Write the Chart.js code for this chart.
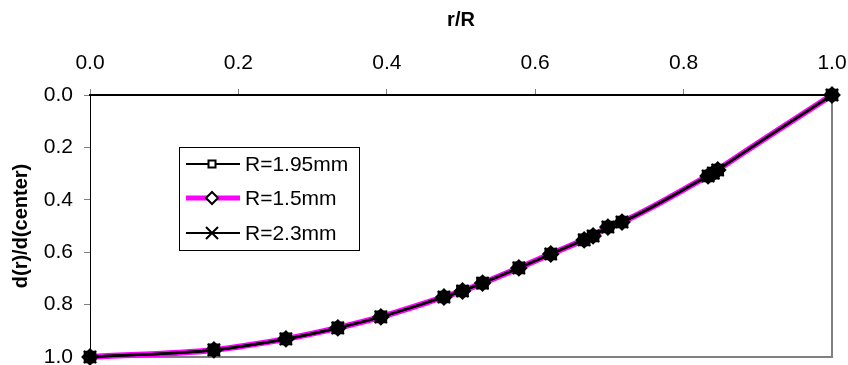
<!DOCTYPE html>
<html><head><meta charset="utf-8">
<script src="https://cdn.jsdelivr.net/npm/chart.js@4/dist/chart.umd.min.js"></script>
<style>html,body{margin:0;padding:0;background:#fff}#wrap{width:848px;height:365px}</style>
</head><body><div id="wrap"><canvas id="c" width="848" height="365"></canvas></div>
<script>
const rOverR = [0, 0.167, 0.264, 0.334, 0.392, 0.477, 0.502, 0.529, 0.578, 0.621, 0.666, 0.678, 0.698, 0.717, 0.833, 0.840, 0.846, 1.0];
const ratioR195 = [1.0, 0.973, 0.931, 0.889, 0.847, 0.771, 0.748, 0.718, 0.660, 0.607, 0.553, 0.538, 0.504, 0.485, 0.309, 0.298, 0.286, 0.0];
const ratioR15  = [1.0, 0.973, 0.931, 0.889, 0.847, 0.771, 0.748, 0.718, 0.660, 0.607, 0.553, 0.538, 0.504, 0.485, 0.309, 0.298, 0.286, 0.0];
const ratioR23  = [1.0, 0.973, 0.931, 0.889, 0.847, 0.771, 0.748, 0.718, 0.660, 0.607, 0.553, 0.538, 0.504, 0.485, 0.309, 0.298, 0.286, 0.0];
const seriesNames = ['R=1.95mm', 'R=1.5mm', 'R=2.3mm'];
const xTitle = 'r/R';
const yTitle = 'd(r)/d(center)';

const FONT = '"Liberation Sans", Arial, sans-serif';
const pts = (ys) => rOverR.map((x, i) => ({x: x, y: ys[i]}));

const styles = [
  {color: '#000000', width: 2.5, pstyle: 'rect', pr: 7.5, fill: '#000000', order: 1},
  {color: '#ff00ff', width: 6, pstyle: 'rectRot', pr: 7.5, fill: '#000000', order: 3},
  {color: '#000000', width: 2.5, pstyle: 'crossRot', pr: 8.5, fill: '#000000', order: 2}
];
const allSeries = [ratioR195, ratioR15, ratioR23];

const frame = {
  id: 'frame',
  beforeDatasetsDraw(chart) {
    const {ctx, chartArea: a} = chart;
    ctx.save();
    ctx.strokeStyle = '#808080';
    ctx.lineWidth = 2;
    ctx.beginPath();
    ctx.moveTo(a.right, a.top);
    ctx.lineTo(a.right, a.bottom);
    ctx.lineTo(a.left, a.bottom);
    ctx.stroke();
    ctx.restore();
  },
  afterDraw(chart) {
    const ctx = chart.ctx;
    ctx.save();
    const bx = 179.5, by = 147.5, bw = 180, bh = 103;
    ctx.strokeStyle = '#000';
    ctx.lineWidth = 1;
    ctx.fillStyle = '#fff';
    ctx.fillRect(bx, by, bw, bh);
    ctx.strokeRect(bx, by, bw, bh);
    const rows = [164, 198, 233];
    ctx.font = '21px ' + FONT;
    ctx.textBaseline = 'middle';
    ctx.textAlign = 'left';
    seriesNames.forEach((name, i) => {
      const y = rows[i];
      const s = styles[i];
      ctx.strokeStyle = s.color;
      ctx.lineWidth = i === 1 ? 5 : 2;
      ctx.beginPath();
      ctx.moveTo(186, y);
      ctx.lineTo(240, y);
      ctx.stroke();
      ctx.strokeStyle = '#000';
      ctx.lineWidth = 2;
      ctx.fillStyle = '#fff';
      const mx = 212;
      if (i === 0) {
        ctx.fillRect(mx - 3.5, y - 3.5, 7, 7);
        ctx.strokeRect(mx - 3.5, y - 3.5, 7, 7);
      } else if (i === 1) {
        ctx.beginPath();
        ctx.moveTo(mx, y - 6); ctx.lineTo(mx + 6, y); ctx.lineTo(mx, y + 6); ctx.lineTo(mx - 6, y); ctx.closePath();
        ctx.fill(); ctx.stroke();
      } else {
        ctx.beginPath();
        ctx.moveTo(mx - 6, y - 6); ctx.lineTo(mx + 6, y + 6);
        ctx.moveTo(mx + 6, y - 6); ctx.lineTo(mx - 6, y + 6);
        ctx.stroke();
      }
      ctx.fillStyle = '#000';
      ctx.fillText(name, 245, y + 1);
    });
    ctx.restore();
  }
};

new Chart(document.getElementById('c'), {
  type: 'line',
  data: {
    datasets: allSeries.map((ys, i) => ({
      label: seriesNames[i],
      data: pts(ys),
      borderColor: styles[i].color,
      borderWidth: styles[i].width,
      pointStyle: styles[i].pstyle,
      pointRadius: styles[i].pr,
      pointBorderColor: '#000',
      pointBorderWidth: 2,
      pointBackgroundColor: styles[i].fill,
      cubicInterpolationMode: 'monotone',
      order: styles[i].order,
      clip: false,
      fill: false
    }))
  },
  options: {
    responsive: false,
    animation: false,
    devicePixelRatio: 1,
    layout: {autoPadding: false, padding: {left: 0, right: 16, top: 0, bottom: 8}},
    plugins: {legend: {display: false}, tooltip: {enabled: false}},
    scales: {
      x: {
        type: 'linear', position: 'top', min: 0, max: 1,
        afterFit: (s) => { s.height = 95; s.paddingLeft = 0; s.paddingRight = 0; },
        ticks: {stepSize: 0.2, callback: (v) => v.toFixed(1), color: '#000', font: {family: FONT, size: 21}, padding: 13, maxRotation: 0},
        grid: {drawOnChartArea: false, drawTicks: true, tickLength: 6, tickColor: '#808080', tickWidth: 1},
        border: {color: '#000', width: 2},
        title: {display: true, text: xTitle, color: '#000', font: {family: FONT, size: 20, weight: 'bold'}, padding: {top: 8, bottom: 0}}
      },
      y: {
        type: 'linear', reverse: true, min: 0, max: 1,
        afterFit: (s) => { s.width = 90; s.paddingTop = 0; s.paddingBottom = 0; },
        ticks: {stepSize: 0.2, callback: (v) => v.toFixed(1), color: '#000', font: {family: FONT, size: 21}, padding: 11},
        grid: {drawOnChartArea: false, drawTicks: true, tickLength: 6, tickColor: '#808080', tickWidth: 1},
        border: {color: '#000', width: 1},
        title: {display: true, text: yTitle, color: '#000', font: {family: FONT, size: 20, weight: 'bold'}, padding: {top: 9, bottom: 0}}
      }
    }
  },
  plugins: [frame]
});
</script>
</body></html>
